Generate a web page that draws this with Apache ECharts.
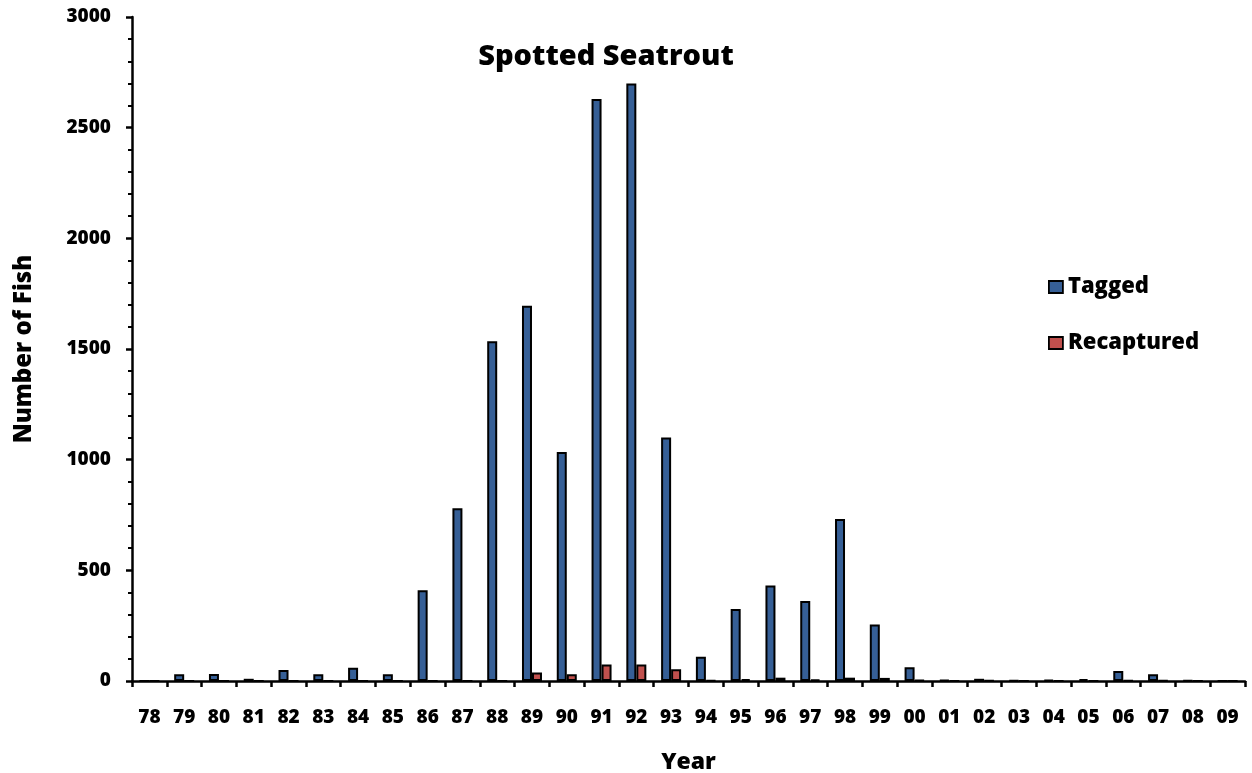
<!DOCTYPE html>
<html>
<head>
<meta charset="utf-8">
<title>Spotted Seatrout</title>
<script src="https://cdn.jsdelivr.net/npm/echarts@6/dist/echarts.min.js"></script>
<style>
  html, body { margin: 0; padding: 0; background: #ffffff; }
  #chart { width: 1252px; height: 773px; }
</style>
</head>
<body>
<div id="chart"></div>
<script>
// Tagging years (two-digit) and fish counts per year
const years = ['78','79','80','81','82','83','84','85','86','87','88','89','90','91','92','93',
               '94','95','96','97','98','99','00','01','02','03','04','05','06','07','08','09'];
const tagged = [0, 30, 32, 10, 50, 30, 60, 30, 410, 780, 1535, 1695, 1035, 2630, 2700, 1100,
                110, 325, 432, 362, 732, 255, 62, 4, 10, 3, 5, 8, 45, 30, 3, 0];
const recaptured = [0, 0, 0, 0, 0, 0, 0, 0, 0, 0, 0, 38, 30, 75, 75, 53,
                    3, 8, 15, 6, 15, 14, 4, 1, 2, 1, 1, 1, 2, 2, 0, 0];
const yTicks = [0, 500, 1000, 1500, 2000, 2500, 3000];

const FONT = '"Open Sans", "Noto Sans", sans-serif';
const W = 800;
const chart = echarts.init(document.getElementById('chart'), null, { renderer: 'canvas' });

chart.setOption({
  animation: false,
  backgroundColor: '#ffffff',
  title: {
    text: 'Spotted Seatrout',
    left: 601, top: 37, textAlign: 'center',
    textStyle: { fontFamily: FONT, fontWeight: W, fontSize: 29, color: '#000' }
  },
  legend: {
    orient: 'vertical',
    left: 1043, top: 271,
    itemWidth: 14, itemHeight: 12, itemGap: 34,
    icon: 'rect',
    itemStyle: { borderColor: '#000', borderWidth: 1.8 },
    textStyle: { fontFamily: FONT, fontWeight: W, fontSize: 22, color: '#000', padding: [0, 0, 0, 0] },
    data: ['Tagged', 'Recaptured']
  },
  grid: { left: 132, right: 7, top: 17, bottom: 92, containLabel: false, outerBoundsMode: 'none' },
  xAxis: {
    type: 'category',
    data: years,
    name: 'Year',
    nameLocation: 'middle',
    nameGap: 70,
    nameTextStyle: { fontFamily: FONT, fontWeight: W, fontSize: 23, color: '#000' },
    axisLine: { lineStyle: { color: '#000', width: 2.5 } },
    axisTick: { show: true, alignWithLabel: false, length: 6, lineStyle: { color: '#000', width: 2.5 } },
    axisLabel: { fontFamily: FONT, fontWeight: W, fontSize: 19, color: '#000', margin: 27, interval: 0 },
    splitLine: { show: false }
  },
  yAxis: {
    type: 'value',
    min: yTicks[0], max: yTicks[yTicks.length - 1], interval: 500,
    name: 'Number of Fish',
    nameLocation: 'middle',
    nameGap: 96,
    nameRotate: 90,
    nameTextStyle: { fontFamily: FONT, fontWeight: W, fontSize: 24, color: '#000' },
    axisLine: { show: true, lineStyle: { color: '#000', width: 2.5 } },
    axisTick: { show: true, length: 6, lineStyle: { color: '#000', width: 2.5 } },
    minorTick: { show: true, splitNumber: 5, length: 4, lineStyle: { color: '#000', width: 2 } },
    axisLabel: {
      fontFamily: FONT, fontWeight: W, fontSize: 19, color: '#000', margin: 21,
      formatter: function (v) { return String(v); }
    },
    splitLine: { show: false }
  },
  series: [
    {
      name: 'Tagged', type: 'bar', data: tagged,
      barWidth: 10, barGap: '0%',
      itemStyle: { color: '#365F96', borderColor: '#000', borderWidth: 2 }
    },
    {
      name: 'Recaptured', type: 'bar', data: recaptured,
      barWidth: 10, barGap: '0%',
      itemStyle: { color: '#C0504D', borderColor: '#000', borderWidth: 2 }
    }
  ]
});
</script>
</body>
</html>
